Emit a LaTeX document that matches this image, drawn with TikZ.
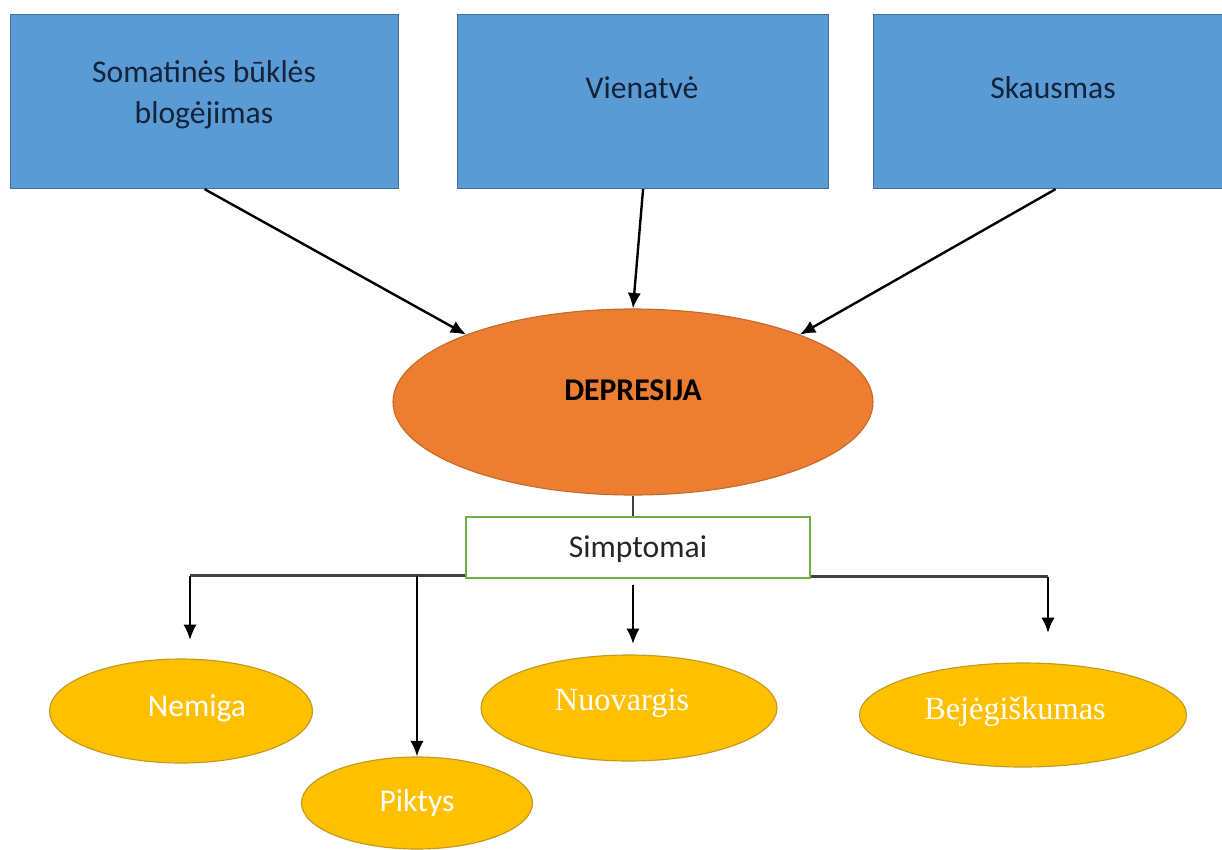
\documentclass[tikz,border=0pt]{standalone}
\usepackage{fontspec}
\setmainfont{Carlito}
\newfontfamily\timesface{Liberation Serif}
\usetikzlibrary{shapes.geometric,arrows.meta,calc}

\definecolor{boxblue}{HTML}{5B9BD5}
\definecolor{boxedge}{HTML}{41719C}
\definecolor{deporange}{HTML}{ED7D31}
\definecolor{depedge}{HTML}{C46A2A}
\definecolor{symgold}{HTML}{FFC000}
\definecolor{symedge}{HTML}{C09A20}
\definecolor{simpgreen}{HTML}{70AD47}
\definecolor{navytext}{HTML}{13233A}
\definecolor{linkgray}{HTML}{404040}

% one drawing unit
\newcommand\pxu{0.025cm}

\tikzset{
  bigtext/.style={font=\fontsize{22.5}{29}\selectfont, align=center, inner sep=0pt},
  cause/.style={draw=boxedge, line width=0.8pt, fill=boxblue, rectangle, anchor=north west, inner sep=0pt},
  causetext/.style={bigtext, text=navytext},
  hub/.style={ellipse, draw=depedge, line width=0.8pt, fill=deporange, inner sep=0pt},
  simpbox/.style={rectangle, draw=simpgreen, line width=0.8pt, fill=white, inner sep=0pt},
  symptom/.style={ellipse, draw=symedge, line width=0.8pt, fill=symgold, inner sep=0pt},
  symtext/.style={bigtext, text=white},
  arr/.style={-{Latex[length=11pt,width=9.5pt]}, line width=1.7pt, black},
  conn/.style={line width=1.6pt, linkgray},
}

\begin{document}
\begin{tikzpicture}[x=0.025cm, y=-0.025cm]
  \useasboundingbox (0,0) rectangle (1222,849);

  % causes
  \node[cause, minimum width=388*\pxu, minimum height=174*\pxu] (b1) at (10,14) {};
  \node[cause, minimum width=371*\pxu, minimum height=174*\pxu] (b2) at (457,14) {};
  \node[cause, minimum width=349*\pxu, minimum height=174*\pxu] (b3) at (873,14) {};
  \node[causetext] (t1) at (204,95) {Somatinės būklės\\blogėjimas};
  \node[causetext] (t2) at (642,88) {Vienatvė};
  \node[causetext] (t3) at (1053,88) {Skausmas};

  % central condition
  \node[hub, minimum width=480*\pxu, minimum height=186*\pxu] (dep) at (633,402) {};
  \node[bigtext, text=black, font=\fontsize{22.5}{29}\selectfont\bfseries] (tdep) at (633,390) {DEPRESIJA};

  % symptoms label
  \node[simpbox, minimum width=344*\pxu, minimum height=61*\pxu] (simp) at (638,547.5) {};
  \node[bigtext, text=black!85] (tsimp) at (638,549) {Simptomai};

  % symptom ellipses
  \node[symptom, minimum width=263*\pxu, minimum height=104*\pxu] (nem) at (181,711) {};
  \node[symptom, minimum width=231*\pxu, minimum height=92*\pxu] (pik) at (417,803) {};
  \node[symptom, minimum width=296*\pxu, minimum height=106*\pxu] (nuo) at (629,708) {};
  \node[symptom, minimum width=327*\pxu, minimum height=104*\pxu] (bej) at (1023,715) {};
  \node[symtext] (tnem) at (197,708) {Nemiga};
  \node[symtext] (tpik) at (417,803) {Piktys};
  \node[symtext, font=\fontsize{23}{29}\selectfont\timesface] (tnuo) at (622,703) {Nuovargis};
  \node[symtext, font=\fontsize{23}{29}\selectfont\timesface] (tbej) at (1015,712) {Bejėgiškumas};

  % causes lead into the hub
  \draw[arr] (b1.south) -- (dep.158.6);
  \draw[arr] (b2.south) -- (dep.north);
  \draw[arr] ([xshift=7.5*\pxu]b3.south) -- (dep.22);

  % hub to symptom label
  \draw[conn] (dep.south) -- (dep.south |- simp.north);

  % branches to the symptoms
  \coordinate (jL) at ([yshift=3*\pxu]simp.south west);
  \coordinate (jR) at ([yshift=2*\pxu]simp.south east);
  \coordinate (tipNem) at (190,640);
  \coordinate (tipBej) at (1048,633);
  \coordinate (srcNuo) at (633,585);
  \coordinate (tipNuo) at (633,644);
  \draw[conn] (jL) -- (jL -| tipNem);
  \draw[arr] (jL -| tipNem) -- (tipNem);
  \draw[arr] (jL -| pik.north) -- (pik.north);
  \draw[arr] (srcNuo) -- (tipNuo);
  \draw[conn] (jR) -- (jR -| tipBej);
  \draw[arr] (jR -| tipBej) -- (tipBej);
\end{tikzpicture}
\end{document}
